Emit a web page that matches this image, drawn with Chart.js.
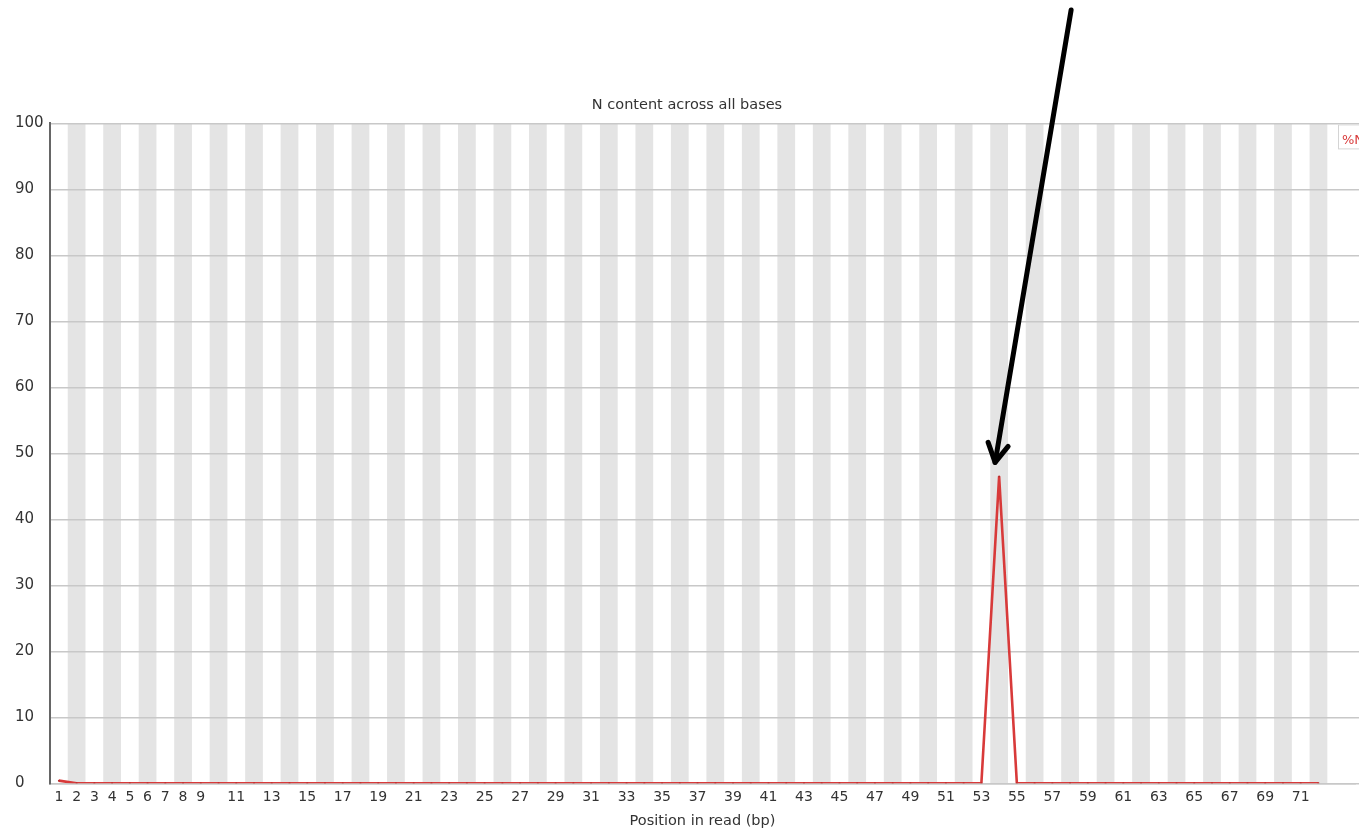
<!DOCTYPE html>
<html>
<head>
<meta charset="utf-8">
<title>N content across all bases</title>
<script src="https://cdn.jsdelivr.net/npm/chart.js@4.4.1/dist/chart.umd.min.js"></script>
<style>
  html, body { margin: 0; padding: 0; background: #ffffff; }
  #wrap { position: relative; width: 1359px; height: 832px; }
</style>
</head>
<body>
<div id="wrap"><canvas id="chart" width="1359" height="832"></canvas></div>
<script>
// Base positions along the read (bp)
const positions = [
  1, 2, 3, 4, 5, 6, 7, 8, 9, 10, 11, 12, 13, 14, 15, 16, 17, 18,
  19, 20, 21, 22, 23, 24, 25, 26, 27, 28, 29, 30, 31, 32, 33, 34, 35, 36,
  37, 38, 39, 40, 41, 42, 43, 44, 45, 46, 47, 48, 49, 50, 51, 52, 53, 54,
  55, 56, 57, 58, 59, 60, 61, 62, 63, 64, 65, 66, 67, 68, 69, 70, 71, 72
];

// Percentage of N calls at each position
const nPercent = [
  0.4, 0, 0, 0, 0, 0, 0, 0, 0, 0, 0, 0, 0, 0, 0, 0, 0, 0,
  0, 0, 0, 0, 0, 0, 0, 0, 0, 0, 0, 0, 0, 0, 0, 0, 0, 0,
  0, 0, 0, 0, 0, 0, 0, 0, 0, 0, 0, 0, 0, 0, 0, 0, 0, 46.5,
  0, 0, 0, 0, 0, 0, 0, 0, 0, 0, 0, 0, 0, 0, 0, 0, 0, 0
];

// Labelled positions on the x axis
const xTickLabels = [
  1, 2, 3, 4, 5, 6, 7, 8, 9, 11, 13, 15, 17, 19, 21, 23, 25, 27, 29, 31, 33,
  35, 37, 39, 41, 43, 45, 47, 49, 51, 53, 55, 57, 59, 61, 63, 65, 67, 69, 71
];

const yTicks = [0, 10, 20, 30, 40, 50, 60, 70, 80, 90, 100];

const seriesName = '%N';
const chartTitle = 'N content across all bases';
const xTitle = 'Position in read (bp)';

const FONT = '"DejaVu Sans", "Liberation Sans", sans-serif';
const LINE_RED = '#d83a3a';
const GRID_GREY = '#c8c8c8';
const GRID_WIDTH = 1.5;

// Same pixel snapping Chart.js applies to its own grid lines
const snap = (px, w) => Math.round(px - w / 2) + w / 2;

// Alternating grey column bands behind every other base position
const columnBands = {
  id: 'columnBands',
  beforeDraw(chart) {
    const { ctx, chartArea, scales } = chart;
    const xs = scales.x;
    ctx.save();
    ctx.fillStyle = '#e4e4e4';
    for (const p of positions) {
      if (p % 2 !== 0) continue;
      const l = xs.getPixelForValue(p - 0.5);
      const r = xs.getPixelForValue(p + 0.5);
      ctx.fillRect(l, chartArea.top, r - l, chartArea.bottom - chartArea.top);
    }
    // horizontal grid lines run on to the right edge of the canvas
    ctx.strokeStyle = GRID_GREY;
    ctx.lineWidth = GRID_WIDTH;
    for (const t of yTicks) {
      const y = snap(scales.y.getPixelForValue(t), GRID_WIDTH);
      ctx.beginPath();
      ctx.moveTo(chartArea.right, y);
      ctx.lineTo(chart.width, y);
      ctx.stroke();
    }
    ctx.restore();
  }
};

// Small legend box in the top-right corner and the pointer arrow at the spike
const overlays = {
  id: 'overlays',
  afterDraw(chart) {
    const { ctx, chartArea, scales } = chart;
    ctx.save();
    // legend box
    const bx = 1338, by = chartArea.top + 1;
    ctx.fillStyle = '#ffffff';
    ctx.fillRect(bx, by, 60, 24);
    ctx.strokeStyle = '#d4d4d4';
    ctx.lineWidth = 1;
    ctx.strokeRect(bx + 0.5, by + 0.5, 60, 24);
    ctx.fillStyle = '#d83a3a';
    ctx.font = '13px ' + FONT;
    ctx.textBaseline = 'middle';
    ctx.textAlign = 'left';
    ctx.fillText(seriesName, bx + 4, by + 16);

    // arrow pointing at the peak
    let peakIdx = 0;
    nPercent.forEach((v, i) => { if (v > nPercent[peakIdx]) peakIdx = i; });
    const tipX = scales.x.getPixelForValue(positions[peakIdx]) - 4;
    const tipY = scales.y.getPixelForValue(nPercent[peakIdx]) - 14;
    const tailX = tipX + 76, tailY = 10;
    ctx.strokeStyle = '#000000';
    ctx.lineWidth = 5;
    ctx.lineCap = 'round';
    ctx.lineJoin = 'round';
    ctx.beginPath();
    ctx.moveTo(tailX, tailY);
    ctx.lineTo(tipX, tipY);
    ctx.stroke();
    ctx.beginPath();
    ctx.moveTo(tipX - 7, tipY - 20);
    ctx.lineTo(tipX, tipY);
    ctx.lineTo(tipX + 13, tipY - 16);
    ctx.stroke();
    ctx.restore();
  }
};

new Chart(document.getElementById('chart'), {
  type: 'line',
  data: {
    datasets: [{
      label: seriesName,
      data: positions.map((p, i) => ({ x: p, y: nPercent[i] })),
      borderColor: LINE_RED,
      backgroundColor: LINE_RED,
      borderWidth: 2.6,
      pointRadius: 1,
      pointBorderWidth: 0,
      pointBackgroundColor: '#b82a2a',
      tension: 0,
      fill: false
    }]
  },
  options: {
    responsive: false,
    animation: false,
    layout: { padding: { left: 15, right: 0, top: 0, bottom: 0 } },
    plugins: {
      legend: { display: false },
      tooltip: { enabled: false },
      title: {
        display: true,
        text: chartTitle,
        color: '#333333',
        font: { family: FONT, size: 14.5, weight: 'normal' },
        padding: { top: 97, bottom: 9 }
      }
    },
    scales: {
      x: {
        type: 'linear',
        min: 0.5,
        max: 74.06,
        afterBuildTicks(scale) {
          scale.ticks = xTickLabels.map(v => ({ value: v }));
        },
        afterFit(scale) { scale.height = 48.7; },
        ticks: {
          autoSkip: false,
          maxRotation: 0,
          color: '#333333',
          padding: 6,
          font: { family: FONT, size: 14 },
          callback: v => String(v)
        },
        grid: { display: false, drawTicks: false },
        border: { display: true, color: GRID_GREY, width: GRID_WIDTH },
        title: {
          display: true,
          text: xTitle,
          color: '#333333',
          font: { family: FONT, size: 14.5 },
          padding: { top: 3, bottom: 2 }
        }
      },
      y: {
        min: 0,
        max: 100,
        afterBuildTicks(scale) {
          scale.ticks = yTicks.map(v => ({ value: v }));
        },
        afterFit(scale) { scale.width = 35; },
        ticks: {
          color: '#333333',
          crossAlign: 'far',
          font: { family: FONT, size: 15 },
          padding: 4
        },
        grid: {
          color: GRID_GREY,
          lineWidth: GRID_WIDTH,
          drawTicks: false
        },
        border: { display: true, color: '#666666', width: 2 }
      }
    }
  },
  plugins: [columnBands, overlays]
});
</script>
</body>
</html>
